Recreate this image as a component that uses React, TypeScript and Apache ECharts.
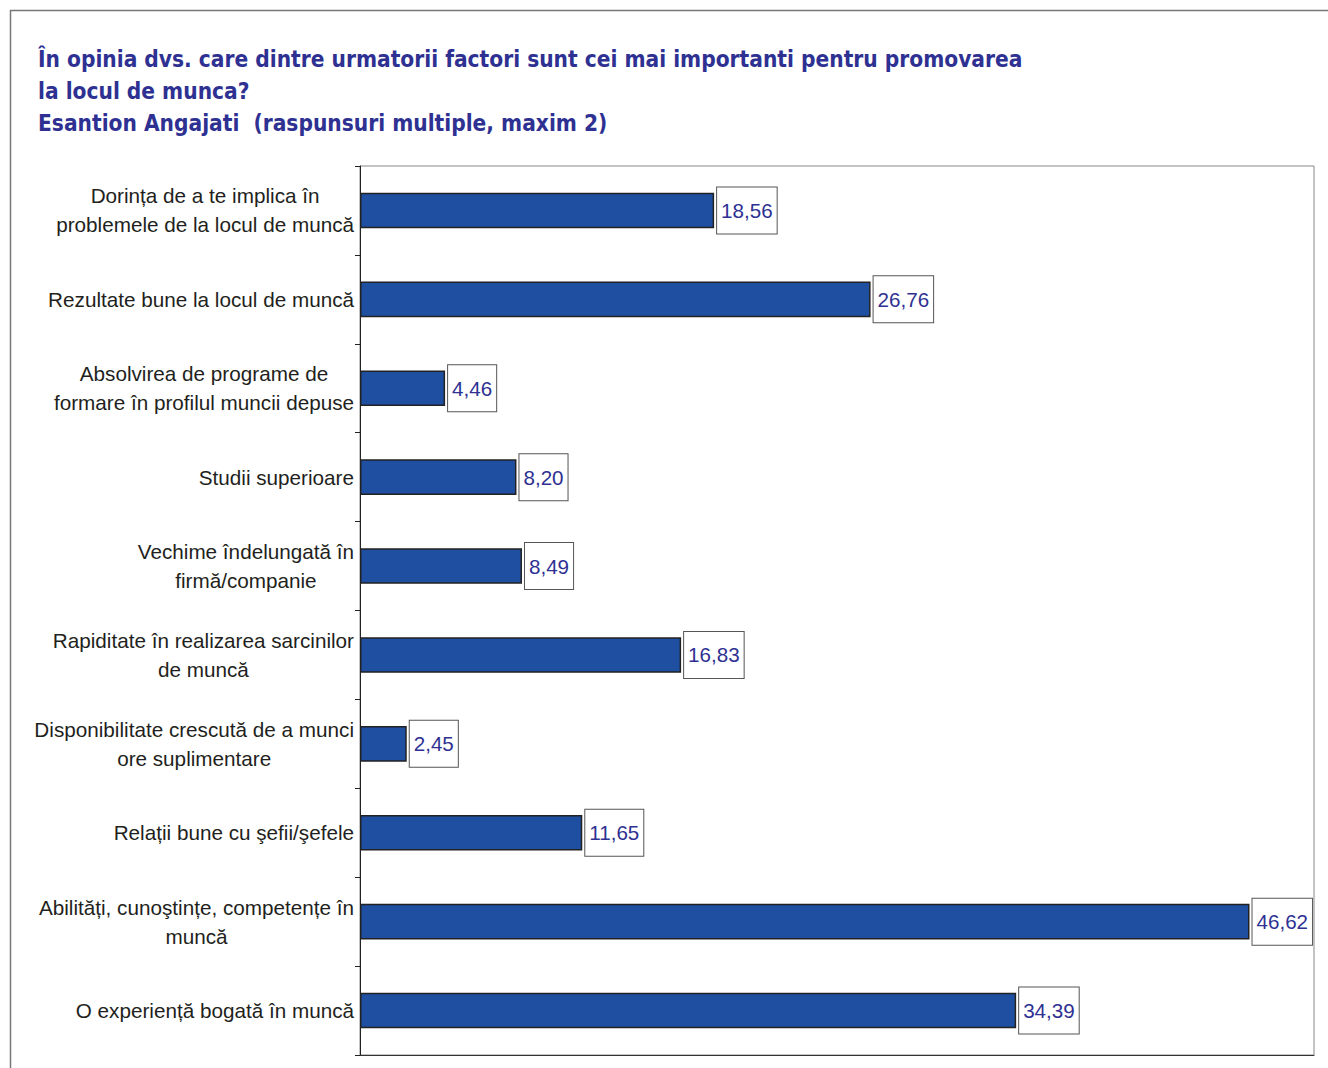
import React, { useEffect, useRef } from "react";
import * as echarts from "echarts";

const titleLines = [
  "În opinia dvs. care dintre urmatorii factori sunt cei mai importanti pentru promovarea",
  "la locul de munca?",
  "Esantion Angajati  (raspunsuri multiple, maxim 2)",
];

const categories = [
  "Dorința de a te implica în\nproblemele de la locul de muncă",
  "Rezultate bune la locul de muncă",
  "Absolvirea de programe de\nformare în profilul muncii depuse",
  "Studii superioare",
  "Vechime îndelungată în\nfirmă/companie",
  "Rapiditate în realizarea sarcinilor\nde muncă",
  "Disponibilitate crescută de a munci\nore suplimentare",
  "Relații bune cu şefii/şefele",
  "Abilități, cunoştințe, competențe în\nmuncă",
  "O experiență bogată în muncă",
];

const values = [18.56, 26.76, 4.46, 8.2, 8.49, 16.83, 2.45, 11.65, 46.62, 34.39];

const xMin = 0;
const xMax = 50;

export default function App() {
  const ref = useRef<HTMLDivElement>(null);
  useEffect(() => {
    if (!ref.current) return;
    const chart = echarts.init(ref.current, undefined, { renderer: "svg" });
    chart.setOption({
      animation: false,
      backgroundColor: "#ffffff",
      title: {
        text: titleLines.join("\n"),
        left: 33,
        top: 38,
        textStyle: {
          fontFamily: "'DejaVu Sans Condensed', sans-serif",
          fontWeight: "bold",
          fontSize: 22.5,
          lineHeight: 32,
          color: "#2e3192",
        },
      },
      graphic: [
        { type: "line", shape: { x1: 10, y1: 10.5, x2: 1328, y2: 10.5 }, style: { stroke: "#777", lineWidth: 1.5 } },
        { type: "line", shape: { x1: 10.5, y1: 10, x2: 10.5, y2: 1068 }, style: { stroke: "#777", lineWidth: 1.5 } },
      ],
      grid: {
        left: 360,
        top: 166,
        right: 14,
        bottom: 13,
        show: true,
        borderColor: "#888",
        borderWidth: 1,
        backgroundColor: "transparent",
      },
      xAxis: {
        type: "value",
        min: xMin,
        max: xMax,
        axisLine: { show: true, onZero: false, lineStyle: { color: "#333", width: 1 } },
        axisTick: { show: false },
        axisLabel: { show: false },
        splitLine: { show: false },
      },
      yAxis: {
        type: "category",
        inverse: true,
        data: categories,
        axisLine: { show: true, lineStyle: { color: "#222", width: 1 } },
        axisTick: { show: true, length: 5, lineStyle: { color: "#222" } },
        axisLabel: {
          margin: 6,
          formatter: (v: string) =>
            v
              .split("\n")
              .map((l) => `{c|${l}}`)
              .join("\n"),
          rich: {
            c: {
              align: "center",
              fontFamily: "'Liberation Sans', Arial, sans-serif",
              fontSize: 20.7,
              lineHeight: 29,
              color: "#231f20",
            },
          },
        },
      },
      series: [
        {
          type: "bar",
          data: values,
          barCategoryGap: "60%",
          itemStyle: { color: "#1f4fa0", borderColor: "#222", borderWidth: 1.5 },
          label: {
            show: true,
            position: "right",
            distance: 3,
            formatter: (p: any) => p.value.toFixed(2).replace(".", ","),
            fontFamily: "'Liberation Sans', Arial, sans-serif",
            fontSize: 20.6,
            lineHeight: 21,
            color: "#2e3192",
            backgroundColor: "#ffffff",
            borderColor: "#555",
            borderWidth: 1,
            padding: [11, 4, 14, 4],
          },
        },
      ],
    });
    return () => chart.dispose();
  }, []);
  return (
    <div
      ref={ref}
      style={{ position: "fixed", left: 0, top: 0, width: 1328, height: 1068 }}
    />
  );
}
